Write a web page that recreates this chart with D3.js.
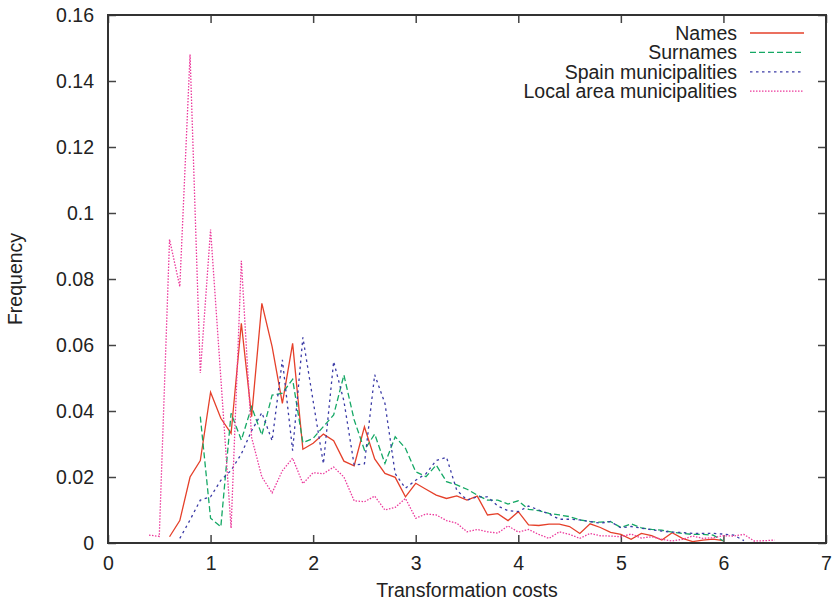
<!DOCTYPE html>
<html>
<head>
<meta charset="utf-8">
<script src="https://cdn.jsdelivr.net/npm/d3@7"></script>
<style>
  body { margin: 0; background: #fff; }
  text { font-family: "Liberation Sans", Arial, sans-serif; fill: #222; }
</style>
</head>
<body>
<div id="chart"></div>
<script>
// transformation cost values (x)
const costs = [0.4, 0.5, 0.6, 0.7, 0.8, 0.9,
  1.0, 1.1, 1.2, 1.3, 1.4, 1.5, 1.6, 1.7, 1.8, 1.9,
  2.0, 2.1, 2.2, 2.3, 2.4, 2.5, 2.6, 2.7, 2.8, 2.9,
  3.0, 3.1, 3.2, 3.3, 3.4, 3.5, 3.6, 3.7, 3.8, 3.9,
  4.0, 4.1, 4.2, 4.3, 4.4, 4.5, 4.6, 4.7, 4.8, 4.9,
  5.0, 5.1, 5.2, 5.3, 5.4, 5.5, 5.6, 5.7, 5.8, 5.9,
  6.0, 6.1, 6.2, 6.3, 6.4, 6.5];

const names = [null, null, 0.0019, 0.0068, 0.020, 0.025,
  0.0457, 0.0378, 0.0332, 0.0666, 0.0383, 0.0726, 0.0595, 0.0423, 0.0605, 0.0284,
  0.0302, 0.033, 0.031, 0.0248, 0.0234, 0.0352, 0.0255, 0.0211, 0.0199, 0.014,
  0.0181, 0.0163, 0.0145, 0.0135, 0.0143, 0.013, 0.0142, 0.0085, 0.0089, 0.0068,
  0.0095, 0.0055, 0.0053, 0.0057, 0.0057, 0.005, 0.0029, 0.0058, 0.0047, 0.0032,
  0.0026, 0.0011, 0.0029, 0.0022, 0.0009, 0.0031, 0.0014, 0.0004, 0.0009, 0.0012,
  0.0007, null, null, null, null, null];

const surnames = [null, null, null, null, null, 0.0383,
  0.0075, 0.0049, 0.0393, 0.0312, 0.0413, 0.0327, 0.0448, 0.0454, 0.0496, 0.0304,
  0.0317, 0.0353, 0.0388, 0.0509, 0.0373, 0.0282, 0.033, 0.0241, 0.0322, 0.0287,
  0.0216, 0.0201, 0.0236, 0.0186, 0.0176, 0.0163, 0.0145, 0.013, 0.013, 0.0118,
  0.0128, 0.0102, 0.0098, 0.009, 0.0085, 0.008, 0.007, 0.0065, 0.0063, 0.0065,
  0.0047, 0.0058, 0.0046, 0.0041, 0.0039, 0.0033, 0.0029, 0.0026, 0.0026, 0.0024,
  0.0006, null, null, null, null, null];

const spain = [null, null, null, 0.0014, 0.007, 0.013,
  0.014, 0.019, 0.022, 0.027, 0.034, 0.0395, 0.031, 0.0555, 0.028, 0.0623,
  0.043, 0.024, 0.055, 0.043, 0.0236, 0.024, 0.051, 0.0423, 0.021, 0.0166,
  0.019, 0.021, 0.025, 0.026, 0.016, 0.013, 0.014, 0.014, 0.0112, 0.0098,
  0.0095, 0.0112, 0.01, 0.0088, 0.0072, 0.0072, 0.007, 0.0065, 0.006, 0.0065,
  0.0046, 0.005, 0.0045, 0.004, 0.0036, 0.0033, 0.0032, 0.0029, 0.0029, 0.0029,
  0.0027, 0.0024, 0.0007, null, null, null];

const localArea = [0.0024, 0.002, 0.092, 0.0777, 0.148, 0.0515,
  0.095, 0.05, 0.0045, 0.0855, 0.032, 0.020, 0.0152, 0.0219, 0.0257, 0.018,
  0.0213, 0.021, 0.023, 0.020, 0.0128, 0.0125, 0.0142, 0.010, 0.0108, 0.0135,
  0.0075, 0.0088, 0.0085, 0.0068, 0.006, 0.0034, 0.0041, 0.0034, 0.003, 0.0052,
  0.0033, 0.0041, 0.0026, 0.0014, 0.0034, 0.0026, 0.0014, 0.0029, 0.0022, 0.0021,
  0.0019, 0.0027, 0.0015, 0.0019, 0.0011, 0.0006, 0.0011, 0.0021, 0.0014, 0.0016,
  0.0022, 0.0021, 0.0026, 0.0006, 0.0007, 0.0009];

const xTicks = [0, 1, 2, 3, 4, 5, 6, 7];
const yTicks = [0, 0.02, 0.04, 0.06, 0.08, 0.1, 0.12, 0.14, 0.16];

const seriesList = [
  {label: "Names", values: names, color: "#e5402a", dash: null},
  {label: "Surnames", values: surnames, color: "#15a865", dash: "6,3"},
  {label: "Spain municipalities", values: spain, color: "#3b3ba6", dash: "2.5,3.5"},
  {label: "Local area municipalities", values: localArea, color: "#ec3a9c", dash: "1.5,1.5"}
];

const fontSize = "19.5px";

// set the dimensions and margins of the graph
const margin = {top: 15, right: 10, bottom: 58, left: 108},
    width = 836 - margin.left - margin.right,
    height = 601 - margin.top - margin.bottom;

let root = d3.select("#chart")
  .append("svg")
    .attr("width", 836)
    .attr("height", 601);

let svg = root.append("g")
    .attr("transform", "translate(" + margin.left + "," + margin.top + ")");

let x = d3.scaleLinear().domain([0, 7]).range([0, width]);
let y = d3.scaleLinear().domain([0, 0.16]).range([height, 0]);

// axes with inward ticks on all four sides
svg.append("g")
  .attr("transform", "translate(0," + height + ")")
  .call(d3.axisBottom(x).tickValues(xTicks).tickSizeInner(-8).tickSizeOuter(0).tickPadding(13)
    .tickFormat(d3.format("d")))
  .call(g => g.select(".domain").remove())
  .style("font-size", fontSize);

svg.append("g")
  .call(d3.axisTop(x).tickValues(xTicks).tickSizeInner(-8).tickSizeOuter(0).tickFormat(""))
  .call(g => g.select(".domain").remove());

svg.append("g")
  .call(d3.axisLeft(y).tickValues(yTicks).tickSizeInner(-8).tickSizeOuter(0).tickPadding(14)
    .tickFormat(d => d3.format("~g")(d)))
  .call(g => g.select(".domain").remove())
  .style("font-size", fontSize);

svg.append("g")
  .attr("transform", "translate(" + width + ",0)")
  .call(d3.axisRight(y).tickValues(yTicks).tickSizeInner(-8).tickSizeOuter(0).tickFormat(""))
  .call(g => g.select(".domain").remove());

svg.selectAll(".tick line").attr("stroke", "#444").attr("stroke-width", 1.5);
svg.selectAll(".tick text").attr("fill", "#222");

// lines
let line = d3.line()
  .defined(d => d[1] !== null)
  .x(d => x(d[0]))
  .y(d => y(d[1]));

seriesList.forEach(s => {
  svg.append("path")
    .datum(costs.map((c, i) => [c, s.values[i]]))
    .attr("fill", "none")
    .attr("stroke", s.color)
    .attr("stroke-width", 1.3)
    .attr("stroke-dasharray", s.dash)
    .attr("d", line);
});

// frame
svg.append("rect")
  .attr("width", width)
  .attr("height", height)
  .attr("fill", "none")
  .attr("stroke", "#333")
  .attr("stroke-width", 2);

// legend
let legend = svg.append("g");
seriesList.forEach((s, i) => {
  let ly = 18 + i * 19.4;
  legend.append("text")
    .attr("x", 629)
    .attr("y", ly)
    .attr("dy", "0.35em")
    .style("text-anchor", "end")
    .style("font-size", fontSize)
    .text(s.label);
  legend.append("line")
    .attr("x1", 642).attr("x2", 696)
    .attr("y1", ly).attr("y2", ly)
    .attr("stroke", s.color)
    .attr("stroke-width", 1.3)
    .attr("stroke-dasharray", s.dash);
});

// axis titles
root.append("text")
  .attr("x", margin.left + width / 2)
  .attr("y", 597)
  .style("text-anchor", "middle")
  .style("font-size", fontSize)
  .text("Transformation costs");

root.append("text")
  .attr("transform", "translate(22," + (margin.top + height / 2) + ") rotate(-90)")
  .style("text-anchor", "middle")
  .style("font-size", fontSize)
  .text("Frequency");
</script>
</body>
</html>
